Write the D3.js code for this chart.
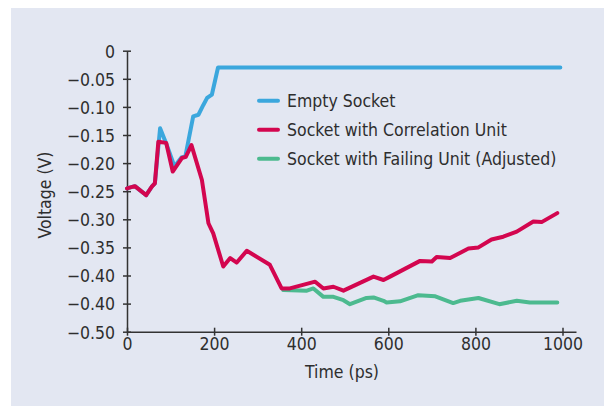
<!DOCTYPE html>
<html>
<head>
<meta charset="utf-8">
<script src="https://cdn.jsdelivr.net/npm/d3@7"></script>
<style>
  body { margin: 0; background: #fff; }
  text { font-family: "DejaVu Sans Condensed", "Liberation Sans Narrow", "Liberation Sans", sans-serif; font-stretch: condensed; fill: #2e2e2e; }
</style>
</head>
<body>
<div id="chart"></div>
<script>
// Empty Socket (time ps, voltage V)
const emptySocket = [
  [0, -0.245], [18, -0.241], [44, -0.257], [57, -0.242], [64, -0.236],
  [76, -0.138], [90, -0.165], [109, -0.206], [125, -0.19], [134, -0.188],
  [152, -0.117], [164, -0.114], [175, -0.097], [184, -0.084], [195, -0.078],
  [209, -0.03], [400, -0.03], [600, -0.03], [800, -0.03], [995, -0.03]
];

// Socket with Correlation Unit
const correlationUnit = [
  [0, -0.245], [18, -0.241], [44, -0.257], [57, -0.242], [64, -0.236],
  [72, -0.162], [90, -0.164], [105, -0.215], [126, -0.191], [135, -0.189],
  [148, -0.168], [172, -0.23], [187, -0.307], [198, -0.325], [221, -0.384],
  [237, -0.369], [252, -0.377], [275, -0.356], [328, -0.381], [355, -0.423],
  [374, -0.423], [432, -0.411], [451, -0.423], [474, -0.42], [497, -0.427],
  [566, -0.402], [589, -0.408], [604, -0.402], [673, -0.374], [700, -0.375],
  [711, -0.367], [742, -0.369], [784, -0.352], [807, -0.35], [837, -0.336],
  [864, -0.331], [895, -0.322], [933, -0.304], [952, -0.305], [988, -0.289]
];

// Socket with Failing Unit (Adjusted)
const failingUnit = [
  [359, -0.426], [413, -0.427], [428, -0.423], [451, -0.438], [474, -0.438],
  [497, -0.444], [512, -0.451], [550, -0.44], [566, -0.439], [589, -0.445],
  [596, -0.448], [627, -0.446], [669, -0.435], [708, -0.437], [749, -0.449],
  [765, -0.445], [807, -0.44], [855, -0.451], [895, -0.445], [925, -0.448],
  [988, -0.448]
];

const seriesNames = ["Empty Socket", "Socket with Correlation Unit", "Socket with Failing Unit (Adjusted)"];
const seriesColors = ["#3ba7dd", "#d3064f", "#4cba8f"];

const yTickValues = [0, -0.05, -0.10, -0.15, -0.20, -0.25, -0.30, -0.35, -0.40, -0.45, -0.50];
const yTickLabels = ["0", "\u22120.05", "\u22120.10", "\u22120.15", "\u22120.20", "\u22120.25",
  "\u22120.30", "\u22120.35", "\u22120.40", "\u22120.40", "\u22120.50"];
const xTickValues = [0, 200, 400, 600, 800, 1000];

const width = 604, height = 406;

const svg = d3.select("#chart").append("svg")
  .attr("width", width)
  .attr("height", height);

svg.append("rect")
  .attr("x", 11).attr("y", 8)
  .attr("width", width - 11).attr("height", height - 8)
  .attr("fill", "#e3e7f2");

const x = d3.scaleLinear().domain([0, 1000]).range([127, 562.5]);
const y = d3.scaleLinear().domain([-0.5, 0]).range([331.7, 50.7]);

// y axis
const yAxis = svg.append("g")
  .attr("transform", `translate(${x(0)},0)`)
  .call(d3.axisLeft(y).tickValues(yTickValues).tickSize(4).tickSizeOuter(0)
    .tickFormat((d, i) => yTickLabels[i]));
yAxis.selectAll(".tick line").attr("x1", 4).attr("stroke", "#333").attr("stroke-width", 1.5);
yAxis.select(".domain").attr("stroke", "#333").attr("stroke-width", 1.5);
yAxis.selectAll(".tick text").attr("x", -12).attr("font-size", 17.5).attr("dy", "0.36em");

// x axis
const xAxis = svg.append("g")
  .attr("transform", `translate(0,${y(-0.5)})`)
  .call(d3.axisBottom(x).tickValues(xTickValues).tickSize(4).tickSizeOuter(0)
    .tickFormat(d3.format("d")));
xAxis.selectAll(".tick line").attr("y1", -4).attr("stroke", "#333").attr("stroke-width", 1.5);
xAxis.select(".domain").attr("d", `M${x(0)},0.5H${x(1000) + 14}`)
  .attr("stroke", "#333").attr("stroke-width", 1.5);
xAxis.selectAll(".tick text").attr("y", 6).attr("font-size", 17.5).attr("dy", "0.71em");
svg.selectAll(".tick text").attr("font-family", null);

// axis titles
svg.append("text")
  .attr("x", 342).attr("y", 378)
  .attr("text-anchor", "middle")
  .attr("font-size", 17.5)
  .text("Time (ps)");

svg.append("text")
  .attr("transform", "translate(51,195) rotate(-90)")
  .attr("text-anchor", "middle")
  .attr("font-size", 17.5)
  .text("Voltage (V)");

// lines
const line = d3.line()
  .x(d => x(d[0]))
  .y(d => y(d[1]));

const allSeries = [emptySocket, correlationUnit, failingUnit];
// draw green first, then blue, red on top
[2, 0, 1].forEach(i => {
  svg.append("path")
    .datum(allSeries[i])
    .attr("fill", "none")
    .attr("stroke", seriesColors[i])
    .attr("stroke-width", 4)
    .attr("stroke-linejoin", "round")
    .attr("stroke-linecap", "round")
    .attr("d", line);
});

// legend
const legend = svg.selectAll(".legend")
  .data(seriesNames)
  .enter().append("g")
  .attr("class", "legend")
  .attr("transform", (d, i) => `translate(258, ${100.7 + i * 29})`);

legend.append("line")
  .attr("x1", 1).attr("x2", 20)
  .attr("stroke", (d, i) => seriesColors[i])
  .attr("stroke-width", 4)
  .attr("stroke-linecap", "round");

legend.append("text")
  .attr("x", 29)
  .attr("dy", "0.36em")
  .attr("font-size", 17.5)
  .text(d => d);
</script>
</body>
</html>
